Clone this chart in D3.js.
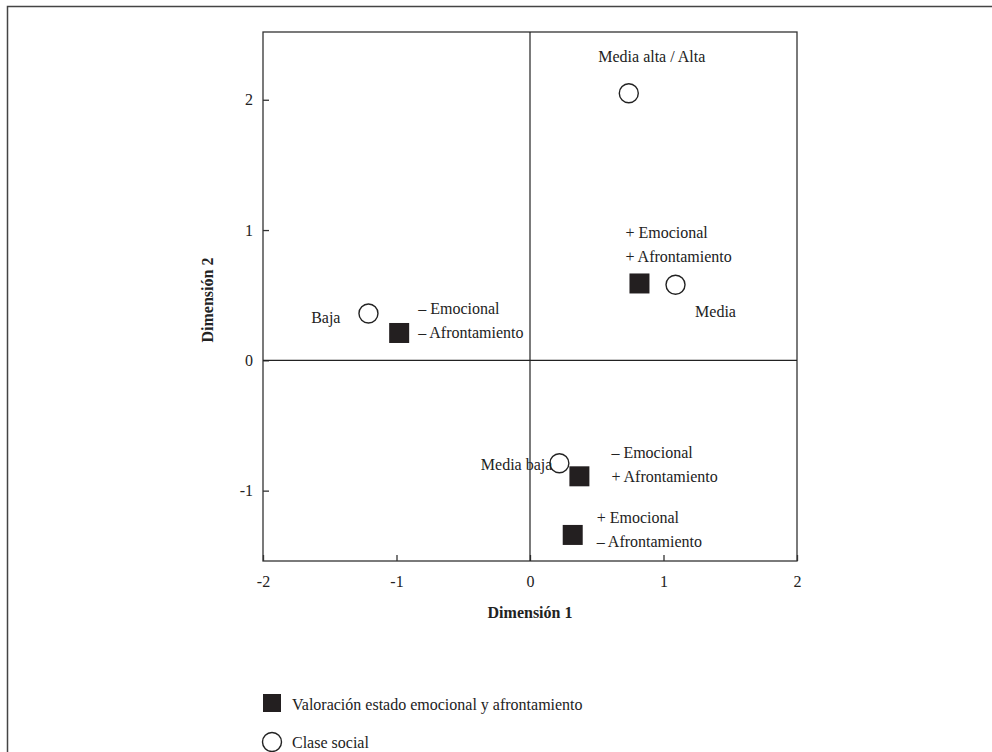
<!DOCTYPE html>
<html>
<head>
<meta charset="utf-8">
<script src="https://cdn.jsdelivr.net/npm/d3@7"></script>
<style>
body { margin: 0; background: #fff; }
svg { display: block; font-family: "Liberation Serif", "DejaVu Serif", serif; }
</style>
</head>
<body>
<svg width="992" height="752"></svg>
<script>
// clase social (circulos)
var claseNames = ["Media alta / Alta", "Media", "Baja", "Media baja"];
var claseX = [0.74, 1.09, -1.21, 0.22];
var claseY = [2.05, 0.58, 0.36, -0.79];

// valoracion estado emocional y afrontamiento (cuadrados)
var valorEmo = ["+ Emocional", "\u2013 Emocional", "\u2013 Emocional", "+ Emocional"];
var valorAfr = ["+ Afrontamiento", "\u2013 Afrontamiento", "+ Afrontamiento", "\u2013 Afrontamiento"];
var valorX = [0.82, -0.98, 0.37, 0.32];
var valorY = [0.59, 0.21, -0.89, -1.34];

var xTicks = [-2, -1, 0, 1, 2];
var yTicks = [-1, 0, 1, 2];

var svg = d3.select("svg");
var fs = "16px";

// marco exterior
svg.append("rect").attr("x", 7.5).attr("y", 6.5).attr("width", 1000).attr("height", 800)
  .attr("fill", "none").attr("stroke", "#444").attr("stroke-width", 1.5);

var xScale = d3.scaleLinear().domain([-2, 2]).range([263, 797]);
var yScale = d3.scaleLinear().domain([-1.54, 2.52]).range([561, 32]);

var xAxis = d3.axisBottom(xScale).tickValues(xTicks).tickSize(6).tickFormat(function(d) { return String(d); });
var yAxis = d3.axisLeft(yScale).tickValues(yTicks).tickSize(6).tickFormat(function(d) { return String(d); });

var gx = svg.append("g").attr("transform", "translate(0," + 561 + ")").call(xAxis);
var gy = svg.append("g").attr("transform", "translate(" + 263 + ",0)").call(yAxis);
[gx, gy].forEach(function(g) {
  g.select(".domain").remove();
  g.selectAll("line").attr("stroke", "#333").attr("stroke-width", 1.3);
  g.selectAll("text").attr("font-family", "Liberation Serif").attr("font-size", fs).attr("fill", "#222");
});
gx.selectAll("line").attr("y1", -6).attr("y2", 0);
gx.selectAll("text").attr("y", 15);
gy.selectAll("line").attr("x1", 6).attr("x2", 0);
gy.selectAll("text").attr("x", -10);

// caja del grafico
svg.append("rect").attr("x", 263).attr("y", 32).attr("width", 797 - 263).attr("height", 561 - 32)
  .attr("fill", "none").attr("stroke", "#333").attr("stroke-width", 1.3);

// ejes del cero
svg.append("line").attr("x1", xScale(0)).attr("x2", xScale(0)).attr("y1", 32).attr("y2", 561)
  .attr("stroke", "#222").attr("stroke-width", 1.2);
svg.append("line").attr("x1", 263).attr("x2", 797).attr("y1", yScale(0)).attr("y2", yScale(0))
  .attr("stroke", "#222").attr("stroke-width", 1.2);

// titulos de ejes
svg.append("text").attr("x", 530).attr("y", 618).attr("text-anchor", "middle")
  .attr("font-weight", "bold").attr("font-size", fs).attr("fill", "#222").text("Dimensión 1");
svg.append("text").attr("transform", "translate(213,300) rotate(-90)").attr("text-anchor", "middle")
  .attr("font-weight", "bold").attr("font-size", fs).attr("fill", "#222").text("Dimensión 2");

// posiciones de etiquetas (desplazamientos en px respecto al punto)
var claseLabelDx = [23, 40, -28, -7];
var claseLabelDy = [-37, 27, 4, 1];
var claseAnchor = ["middle", "middle", "end", "end"];
var valorLabelDx = [-14, 19, 32, 24];
var valorLabelDy = [-51, -25, -24, -18];

var cuad = svg.append("g");
cuad.selectAll("rect").data(valorX).enter().append("rect")
  .attr("x", function(d) { return xScale(d) - 10; })
  .attr("y", function(d, i) { return yScale(valorY[i]) - 10; })
  .attr("width", 20).attr("height", 20).attr("fill", "#231f20");

var circ = svg.append("g");
circ.selectAll("circle").data(claseX).enter().append("circle")
  .attr("cx", function(d) { return xScale(d); })
  .attr("cy", function(d, i) { return yScale(claseY[i]); })
  .attr("r", 9.5).attr("fill", "#fff").attr("stroke", "#222").attr("stroke-width", 1.4);

svg.append("g").selectAll("text").data(claseNames).enter().append("text")
  .attr("x", function(d, i) { return xScale(claseX[i]) + claseLabelDx[i]; })
  .attr("y", function(d, i) { return yScale(claseY[i]) + claseLabelDy[i]; })
  .attr("text-anchor", function(d, i) { return claseAnchor[i]; })
  .attr("dy", "0.35em").attr("font-size", fs).attr("fill", "#222")
  .text(function(d) { return d; });

var vl = svg.append("g").selectAll("g").data(valorX).enter().append("g");
vl.append("text")
  .attr("x", function(d, i) { return xScale(d) + valorLabelDx[i]; })
  .attr("y", function(d, i) { return yScale(valorY[i]) + valorLabelDy[i]; })
  .attr("dy", "0.35em").attr("font-size", fs).attr("fill", "#222")
  .text(function(d, i) { return valorEmo[i]; });
vl.append("text")
  .attr("x", function(d, i) { return xScale(d) + valorLabelDx[i]; })
  .attr("y", function(d, i) { return yScale(valorY[i]) + valorLabelDy[i] + 24; })
  .attr("dy", "0.35em").attr("font-size", fs).attr("fill", "#222")
  .text(function(d, i) { return valorAfr[i]; });

// leyenda
svg.append("rect").attr("x", 263).attr("y", 694).attr("width", 18).attr("height", 18).attr("fill", "#231f20");
svg.append("text").attr("x", 292).attr("y", 704).attr("dy", "0.35em").attr("font-size", fs).attr("fill", "#222")
  .text("Valoración estado emocional y afrontamiento");
svg.append("circle").attr("cx", 272).attr("cy", 742).attr("r", 9.5).attr("fill", "#fff").attr("stroke", "#222").attr("stroke-width", 1.4);
svg.append("text").attr("x", 292).attr("y", 742).attr("dy", "0.35em").attr("font-size", fs).attr("fill", "#222")
  .text("Clase social");
</script>
</body>
</html>
